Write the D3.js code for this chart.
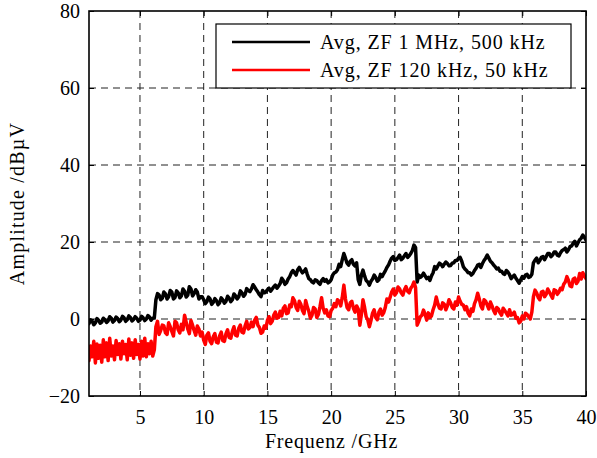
<!DOCTYPE html>
<html>
<head>
<meta charset="utf-8">
<script src="https://cdn.jsdelivr.net/npm/d3@7"></script>
<style>
  html, body { margin: 0; padding: 0; background: #fff; }
  svg { display: block; }
  text { font-family: "Liberation Serif", "Times New Roman", serif; fill: #000; }
</style>
</head>
<body>
<svg id="chart" width="597" height="458"></svg>
<script>
// Frequency grid (GHz): 1.000 .. 40.000 in 0.125 GHz steps
const freqStart = 1, freqStep = 0.125;

// Avg, ZF 1 MHz, 500 kHz (black)
const blackValues = [
  -1.2, -0.2, -0.6, -1.5, -1.0, 0.1, -0.3, -1.1, -0.8, 0.2, -0.2, -0.9, -0.5, 0.6, 0.2, -0.8, -0.4, 0.5, 0.1, -0.7,
  -0.3, 0.7, 0.3, -0.6, -0.2, 0.8, 0.4, -0.5, -0.1, 0.6, 0.2, -0.6, -0.3, 0.7, 0.3, -0.4, 0.0, 0.9, 0.5, -0.3, 0.2,
  0.3, 5.0, 6.6, 6.2, 5.0, 5.4, 7.0, 6.5, 5.2, 5.8, 7.4, 7.0, 5.2, 5.6, 7.3, 6.8, 5.5, 6.0, 7.8, 7.2, 5.7, 6.2, 8.4, 7.8, 6.0, 6.6, 7.6, 7.0, 5.2, 5.8, 5.8, 5.0,
  4.0, 4.5, 5.7, 5.2, 3.8, 4.3, 5.3, 4.8, 3.7, 4.2, 5.5, 5.0, 4.1, 4.6, 5.9, 5.4, 4.5, 5.0, 6.5, 6.0, 5.2, 5.8, 7.3, 6.8, 5.9, 6.4, 7.9, 7.4, 7.1, 7.8, 8.9, 8.3,
  7.6, 7.0, 6.3, 5.8, 7.4, 6.8, 7.0, 7.6, 8.0, 7.2, 7.8, 8.4, 8.8, 8.0, 8.6, 9.2, 10.6, 10.0, 9.0, 9.4, 10.4, 11.0, 12.0, 12.6, 12.0, 11.4, 12.8, 13.4, 12.6, 12.0, 12.4, 13.0,
  11.6, 10.5, 10.2, 9.6, 9.4, 10.2, 10.0, 9.4, 9.0, 10.0, 10.5, 9.8, 10.2, 9.4, 9.6, 10.2, 11.4, 12.0, 12.2, 12.8, 14.2, 13.6, 15.4, 17.0, 15.8, 14.5, 14.0, 15.0, 15.4, 14.2, 13.8, 14.6,
  10.2, 9.0, 11.4, 12.7, 11.2, 10.0, 9.6, 8.8, 9.8, 10.4, 11.4, 10.8, 9.8, 10.2, 11.6, 11.0, 11.8, 12.5, 13.4, 14.0, 15.0, 15.8, 16.2, 15.2, 15.4, 16.0, 16.6, 15.4, 15.8, 16.4, 17.0, 16.0,
  16.4, 17.0, 17.8, 19.2, 18.6, 9.6, 11.4, 10.8, 11.2, 11.9, 11.2, 10.5, 10.8, 10.0, 11.2, 12.0, 13.6, 13.0, 13.8, 14.5, 14.2, 13.6, 14.2, 14.8, 14.4, 13.8, 13.9, 14.5, 14.6, 15.2, 15.2, 15.8,
  16.0, 15.0, 13.6, 13.0, 12.6, 12.0, 12.0, 11.4, 11.8, 12.6, 13.2, 14.0, 14.2, 13.4, 14.4, 15.2, 15.8, 16.6, 15.8, 15.0, 14.6, 14.0, 13.6, 13.0, 13.2, 12.4, 12.4, 11.8, 11.6, 12.6, 12.2, 11.5,
  10.5, 11.0, 11.4, 10.6, 10.0, 9.3, 10.2, 11.0, 10.6, 11.4, 11.6, 10.8, 11.0, 11.6, 14.6, 15.3, 15.8, 14.6, 15.2, 16.0, 16.2, 15.4, 16.2, 17.0, 17.0, 16.2, 16.6, 17.4, 17.4, 16.6, 16.4, 17.2,
  17.8, 18.0, 18.4, 17.4, 18.0, 18.8, 19.0, 19.7, 20.2, 19.0, 19.8, 20.6, 21.0, 21.8, 21.2, 20.5
];

// Avg, ZF 120 kHz, 50 kHz (red)
const redValues = [
  -10.8, -7.0, -9.8, -5.8, -11.4, -6.5, -10.2, -6.8, -11.2, -5.4, -9.8, -6.2, -10.8, -5.0, -9.6, -7.0, -10.6, -5.6, -9.2, -6.4,
  -10.4, -5.8, -9.0, -6.6, -10.6, -5.2, -9.4, -6.2, -10.2, -5.4, -9.2, -6.6, -10.4, -5.8, -9.6, -5.0, -9.8, -6.4, -9.0, -5.8, -9.6,
  -8.0, -2.0, -0.6, -4.0, -3.0, -1.6, -1.8, -3.6, -4.0, -1.0, -2.0, -3.2, -4.4, -0.6, -1.0, -2.8, -3.6, -1.4, -2.8, 1.0, -0.8, -2.6, -3.8, -0.4, -1.6, -3.0, -4.2, -1.8, -2.6, -4.4, -3.4, -5.5,
  -6.6, -4.2, -3.6, -5.8, -6.4, -4.6, -3.8, -6.0, -6.2, -4.4, -3.4, -5.6, -5.8, -3.8, -2.8, -4.8, -5.0, -3.2, -2.0, -4.2, -4.4, -2.4, -1.6, -3.4, -3.6, -1.8, -0.6, -2.6, -2.2, -0.8, -2.0, -0.3,
  0.4, -1.6, -2.2, -3.7, -3.4, -1.8, -2.4, -0.4, 0.6, -1.2, -0.6, 1.0, 1.8, 0.2, 0.4, 2.0, 0.8, 2.8, 3.4, 1.4, 1.6, 3.6, 3.2, 5.5, 4.8, 3.0, 2.2, 4.6, 3.8, 2.2, 1.4, 4.8,
  3.2, 2.0, 0.2, 1.0, 3.0, 2.6, 0.4, 1.2, 3.2, 5.5, 2.8, 1.6, 2.4, 0.8, 0.6, 2.2, 2.8, 4.0, 3.2, 5.0, 4.6, 3.4, 5.6, 8.8, 5.2, 3.0, 2.4, 4.2, 4.6, 2.8, 1.8, 3.4,
  2.6, -1.6, 1.2, 5.0, 3.0, 0.6, -0.2, -2.0, -0.4, 1.5, 2.4, 0.4, -0.2, 1.8, 2.6, 1.0, 1.6, 3.0, 5.2, 4.4, 5.6, 7.0, 7.8, 6.2, 6.8, 8.3, 7.8, 6.8, 6.2, 7.6, 8.4, 7.2,
  6.8, 8.0, 8.6, 9.6, 8.2, -1.6, -0.6, 0.6, 1.0, 2.3, 1.2, -0.3, 1.6, 0.4, 0.8, 2.4, 3.6, 5.7, 4.0, 2.8, 2.6, 4.2, 3.8, 2.4, 3.4, 5.0, 4.2, 3.0, 2.6, 4.4, 3.6, 5.7,
  4.6, 3.8, 3.6, 2.4, 3.2, 1.5, 0.8, 2.6, 2.0, 4.0, 5.0, 6.7, 5.2, 3.4, 2.6, 5.0, 4.6, 3.6, 2.6, 4.4, 3.4, 2.2, 1.4, 3.0, 2.6, 1.6, 1.0, 2.8, 2.2, 1.5, 0.8, 2.4,
  1.0, 1.2, 1.8, 0.2, 0.4, -1.0, -0.6, 0.8, 0.0, 1.5, 1.2, 0.6, 0.0, 1.8, 5.8, 7.5, 6.8, 5.6, 5.0, 7.0, 7.2, 5.8, 6.4, 7.8, 7.0, 6.2, 5.4, 7.6, 7.4, 6.4, 7.0, 8.0,
  7.6, 9.0, 9.6, 11.0, 10.0, 8.6, 8.4, 10.4, 10.6, 9.2, 9.8, 11.8, 10.4, 12.0, 11.2, 10.5
];

const xTicks = [5, 10, 15, 20, 25, 30, 35, 40];
const yTicks = [-20, 0, 20, 40, 60, 80];
const seriesNames = ["Avg, ZF 1 MHz, 500 kHz", "Avg, ZF 120 kHz, 50 kHz"];
const seriesColors = ["#000000", "#ff0000"];
const xTitle = "Frequenz /GHz";
const yTitle = "Amplitude /dBµV";

const svg = d3.select("#chart");
const L = 89, R = 586, T = 11, B = 396;

const x = d3.scaleLinear().domain([1, 40]).range([L, R]);
const y = d3.scaleLinear().domain([-20, 80]).range([B, T]);

// Grid
const grid = svg.append("g");
grid.selectAll("line.gx").data(xTicks.filter(d => d < 40)).join("line")
  .attr("x1", d => x(d)).attr("x2", d => x(d)).attr("y1", T).attr("y2", B)
  .attr("stroke", "#222").attr("stroke-width", 1).attr("stroke-dasharray", "7,5");
grid.selectAll("line.gy").data(yTicks.filter(d => d > -20 && d < 80)).join("line")
  .attr("x1", L).attr("x2", R).attr("y1", d => y(d)).attr("y2", d => y(d))
  .attr("stroke", "#222").attr("stroke-width", 1).attr("stroke-dasharray", "7,5");

// Data lines
svg.append("clipPath").attr("id", "clip").append("rect")
  .attr("x", L).attr("y", T).attr("width", R - L).attr("height", B - T);

const mk = vals => vals.map((v, i) => ({ f: freqStart + i * freqStep, v }));
const line = d3.line().x(d => x(d.f)).y(d => y(d.v));
const plot = svg.append("g").attr("clip-path", "url(#clip)");
[blackValues, redValues].forEach((vals, k) => {
  plot.append("path").datum(mk(vals))
    .attr("d", line).attr("fill", "none")
    .attr("stroke", seriesColors[k]).attr("stroke-width", 3.5)
    .attr("stroke-linejoin", "round").attr("stroke-linecap", "round");
});

// Axes (ticks inward on all sides)
const tickLen = 5;
const axB = svg.append("g").attr("transform", `translate(0,${B})`)
  .call(d3.axisBottom(x).tickValues(xTicks).tickSize(-tickLen).tickPadding(14).tickFormat(d3.format("d")));
const axT = svg.append("g").attr("transform", `translate(0,${T})`)
  .call(d3.axisTop(x).tickValues(xTicks).tickSize(-tickLen).tickFormat(""));
const axL = svg.append("g").attr("transform", `translate(${L},0)`)
  .call(d3.axisLeft(y).tickValues(yTicks).tickSize(-tickLen).tickPadding(9)
    .tickFormat(d => d < 0 ? "\u2212" + Math.abs(d) : String(d)));
const axR = svg.append("g").attr("transform", `translate(${R},0)`)
  .call(d3.axisRight(y).tickValues(yTicks).tickSize(-tickLen).tickFormat(""));
[axB, axT, axL, axR].forEach(a => {
  a.select(".domain").remove();
  a.selectAll(".tick line").attr("stroke", "#000").attr("stroke-width", 1);
  a.selectAll(".tick text").style("font-family", '"Liberation Serif", serif').style("font-size", "20px").attr("fill", "#000");
});

// Frame
svg.append("rect").attr("x", L).attr("y", T).attr("width", R - L).attr("height", B - T)
  .attr("fill", "none").attr("stroke", "#000").attr("stroke-width", 1.6);

// Axis titles
svg.append("text").attr("x", (L + R) / 2 - 6).attr("y", 448).attr("text-anchor", "middle")
  .style("font-size", "20px").style("letter-spacing", "0.8px").text(xTitle);
svg.append("text").attr("transform", `translate(24,${(T + B) / 2}) rotate(-90)`).attr("text-anchor", "middle")
  .style("font-size", "20px").style("letter-spacing", "1.2px").text(yTitle);

// Legend
const lg = svg.append("g");
lg.append("rect").attr("x", 216).attr("y", 24).attr("width", 355).attr("height", 64)
  .attr("fill", "#fff").attr("stroke", "#000").attr("stroke-width", 1.2);
seriesNames.forEach((name, k) => {
  const yy = 42 + k * 28;
  lg.append("line").attr("x1", 232).attr("x2", 310).attr("y1", yy).attr("y2", yy)
    .attr("stroke", seriesColors[k]).attr("stroke-width", 2.6);
  lg.append("text").attr("x", 320).attr("y", yy + 7)
    .style("font-size", "20px").style("letter-spacing", "0.9px").text(name);
});
</script>
</body>
</html>
